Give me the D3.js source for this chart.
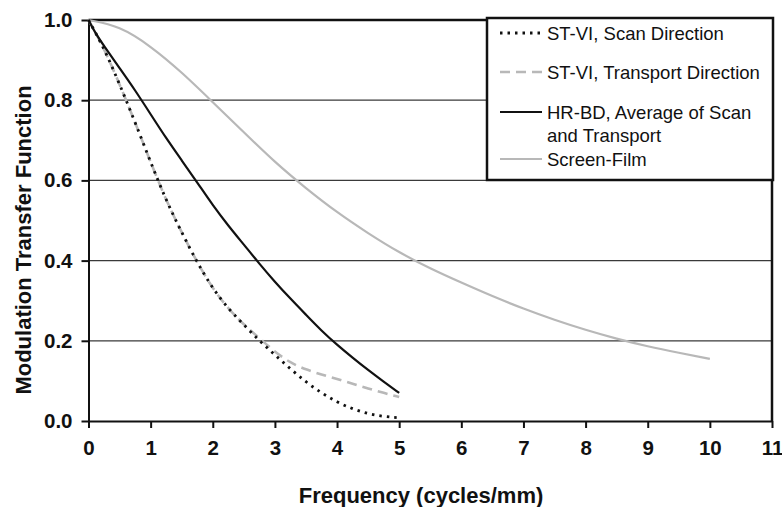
<!DOCTYPE html>
<html>
<head>
  <meta charset="utf-8">
  <script src="https://d3js.org/d3.v7.min.js"></script>
  <style>
    body { margin: 0; background: #fff; }
    text { font-family: "Liberation Sans", Arial, sans-serif; }
    .tick text { font-weight: bold; font-size: 20.5px; fill: #111; }
    .axis path, .axis line { stroke: #111; stroke-width: 2px; }
    .grid { stroke: #3a3a3a; stroke-width: 1.3px; }
    .title { font-weight: bold; font-size: 22px; fill: #111; }
    .legend text { font-size: 18.5px; fill: #111; }
  </style>
</head>
<body>
<svg width="782" height="507"></svg>
<script>
// ST-VI, scan and transport (shared frequency grid)
const stviFreq = [0, 0.25, 0.5, 0.75, 1, 1.25, 1.5, 1.75, 2, 2.25, 2.5, 2.75, 3, 3.25, 3.5, 3.75, 4, 4.25, 4.5, 4.75, 5];
const stviScan = [1.0, 0.93, 0.84, 0.745, 0.645, 0.55, 0.47, 0.395, 0.33, 0.28, 0.24, 0.20, 0.165, 0.13, 0.097, 0.07, 0.047, 0.03, 0.018, 0.011, 0.008];
const stviTransport = [1.0, 0.93, 0.84, 0.745, 0.645, 0.55, 0.47, 0.395, 0.33, 0.28, 0.24, 0.207, 0.172, 0.145, 0.128, 0.116, 0.105, 0.093, 0.081, 0.07, 0.06];

// HR-BD, average of scan and transport
const hrbdFreq = [0, 0.1, 0.25, 0.5, 0.75, 1, 1.25, 1.5, 1.75, 2, 2.25, 2.5, 2.75, 3, 3.25, 3.5, 3.75, 4, 4.25, 4.5, 4.75, 5];
const hrbd = [1.0, 0.97, 0.935, 0.88, 0.825, 0.765, 0.705, 0.65, 0.595, 0.538, 0.487, 0.44, 0.392, 0.347, 0.305, 0.265, 0.225, 0.19, 0.158, 0.127, 0.098, 0.07];

// Screen-film
const filmFreq = [0, 0.5, 1, 1.5, 2, 2.5, 3, 3.5, 4, 4.5, 5, 5.5, 6, 6.5, 7, 7.5, 8, 8.5, 9, 9.5, 10];
const film = [1.0, 0.985, 0.935, 0.87, 0.795, 0.72, 0.645, 0.58, 0.52, 0.468, 0.42, 0.38, 0.345, 0.311, 0.28, 0.252, 0.227, 0.205, 0.186, 0.17, 0.155];

const xTicks = d3.range(0, 12);
const yTicks = [0, 0.2, 0.4, 0.6, 0.8, 1.0];

const legendLabels = [
  ["ST-VI, Scan Direction"],
  ["ST-VI, Transport Direction"],
  ["HR-BD, Average of Scan", "and Transport"],
  ["Screen-Film"]
];

const svg = d3.select("svg");
const plotL = 88.5, plotR = 772, plotT = 20, plotB = 421;

const x = d3.scaleLinear().domain([0, 11]).range([plotL, plotR]);
const y = d3.scaleLinear().domain([0, 1]).range([plotB, plotT]);

// gridlines
svg.append("g").selectAll("line")
  .data(yTicks.filter(d => d > 0 && d < 1))
  .enter().append("line")
  .attr("class", "grid")
  .attr("x1", plotL).attr("x2", plotR)
  .attr("y1", d => y(d)).attr("y2", d => y(d));

// top and right frame
svg.append("line").attr("x1", plotL).attr("x2", plotR + 1)
  .attr("y1", y(1)).attr("y2", y(1))
  .attr("stroke", "#111").attr("stroke-width", 2.5);
svg.append("line").attr("x1", plotR).attr("x2", plotR)
  .attr("y1", y(1)).attr("y2", y(0))
  .attr("stroke", "#111").attr("stroke-width", 2.5);

// axes
svg.append("g").attr("class", "axis")
  .attr("transform", `translate(0,${plotB})`)
  .call(d3.axisBottom(x).tickValues(xTicks).tickFormat(d3.format("d")).tickSize(7).tickSizeOuter(0).tickPadding(12));
svg.append("g").attr("class", "axis")
  .attr("transform", `translate(${plotL},0)`)
  .call(d3.axisLeft(y).tickValues(yTicks).tickFormat(d3.format(".1f")).tickSize(7).tickSizeOuter(0).tickPadding(9));

// curves
const line = d3.line().curve(d3.curveBasis).x(d => x(d[0])).y(d => y(d[1]));
const zip = (a, b) => a.map((v, i) => [v, b[i]]);

const series = [
  { pts: zip(filmFreq, film), color: "#b8b8b8", width: 2.2, dash: null },
  { pts: zip(stviFreq, stviTransport), color: "#b8b8b8", width: 2.6, dash: "10,6" },
  { pts: zip(stviFreq, stviScan), color: "#111", width: 2.8, dash: "2.5,5" },
  { pts: zip(hrbdFreq, hrbd), color: "#111", width: 2.2, dash: null }
];

svg.append("g").selectAll("path")
  .data(series)
  .enter().append("path")
  .attr("d", d => line(d.pts))
  .attr("fill", "none")
  .attr("stroke", d => d.color)
  .attr("stroke-width", d => d.width)
  .attr("stroke-dasharray", d => d.dash);

// axis titles
svg.append("text").attr("class", "title")
  .attr("x", 421).attr("y", 503)
  .attr("text-anchor", "middle")
  .text("Frequency (cycles/mm)");
svg.append("text").attr("class", "title")
  .attr("transform", "translate(31,240) rotate(-90)")
  .attr("text-anchor", "middle")
  .text("Modulation Transfer Function");

// legend
const legend = svg.append("g").attr("class", "legend");
legend.append("rect")
  .attr("x", 487).attr("y", 18).attr("width", 286).attr("height", 162)
  .attr("fill", "#fff").attr("stroke", "#111").attr("stroke-width", 2.5);

const legendStyle = [series[2], series[1], series[3], series[0]];
const legendY = [33, 72, 112, 159];

legendLabels.forEach((lines, i) => {
  const s = legendStyle[i];
  legend.append("line")
    .attr("x1", 500).attr("x2", 542)
    .attr("y1", legendY[i]).attr("y2", legendY[i])
    .attr("stroke", s.color).attr("stroke-width", s.width)
    .attr("stroke-dasharray", s.dash);
  lines.forEach((t, j) => {
    legend.append("text")
      .attr("x", 547).attr("y", legendY[i] + 6.5 + j * 23)
      .text(t);
  });
});
</script>
</body>
</html>
